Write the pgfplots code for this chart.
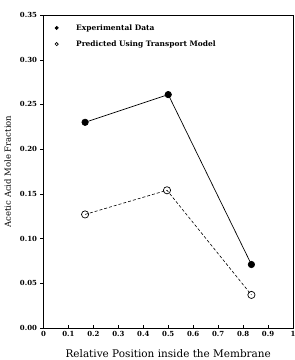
\documentclass[border=0pt]{standalone}
\usepackage{fontspec}
\setmainfont{DejaVu Serif}
\usepackage{pgfplots}
\pgfplotsset{compat=1.18}

\begin{document}
\begin{tikzpicture}
\begin{axis}[
  at={(0,0)}, anchor=south west,
  scale only axis,
  width=249.5bp, height=313bp,
  xmin=0, xmax=1, ymin=0, ymax=0.35,
  xtick={0,0.1,...,1.0},
  xticklabels={0,0.1,0.2,0.3,0.4,0.5,0.6,0.7,0.8,0.9,1},
  ytick={0,0.05,...,0.351},
  yticklabel style={/pgf/number format/.cd,fixed,fixed zerofill,precision=2},
  /pgf/number format/assume math mode=true,
  tick label style={font=\fontsize{7}{8}\selectfont\bfseries},
  xtick pos=bottom, ytick pos=left,
  x tick style={black}, y tick style={black},
  xtick align=inside, ytick align=outside,
  major tick length=3bp,
  axis line style={black, line width=0.6pt},
  ylabel={Acetic Acid Mole Fraction},
  ylabel style={font=\fontsize{8.5}{10}\selectfont, at={(axis description cs:0,0.5)}, anchor=south, yshift=29bp},
  xlabel={Relative Position inside the Membrane},
  xlabel style={font=\fontsize{10.5}{12}\selectfont, at={(axis description cs:0.5,0)}, anchor=north, yshift=-18bp},
  legend style={draw=none, fill=none, inner sep=0pt, at={(axis cs:0.03,0.342)}, anchor=north west,
    font=\fontsize{7.5}{8}\selectfont\bfseries, row sep=5bp,
    legend cell align=left},
  legend image code/.code={%
    \path[draw=none] (0bp,0bp) -- (23bp,0bp);
    \draw[#1, mark size=1.6bp] plot coordinates {(5.5bp,0bp)};},
]
% measured acetic acid mole fraction
\addplot[black, line width=0.7pt, mark=*, mark size=3.2bp, mark options={solid, fill=black}]
  coordinates {(0.1667,0.230) (0.5,0.261) (0.8333,0.071)};
\addlegendentry{Experimental Data}
% transport model prediction
\addplot[black, line width=0.6pt, densely dashed, mark=o, mark size=3.6bp, mark options={solid, fill=white, line width=0.7pt}]
  coordinates {(0.1667,0.127) (0.495,0.154) (0.8333,0.037)};
\addlegendentry{Predicted Using Transport Model}
\end{axis}
\pgfresetboundingbox
\path[use as bounding box] (-43.5bp,-32bp) rectangle (251.5bp,328bp);
\end{tikzpicture}
\end{document}
